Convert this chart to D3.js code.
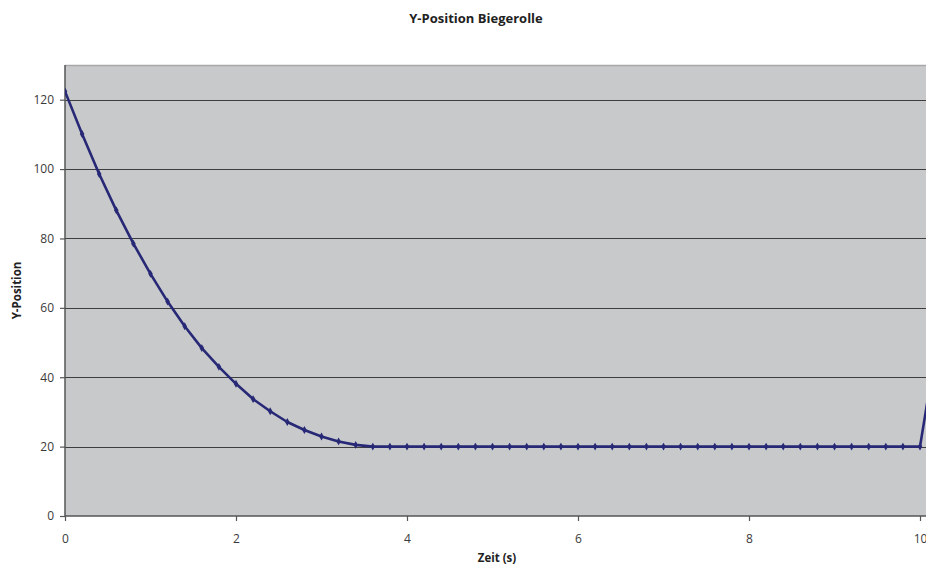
<!DOCTYPE html>
<html>
<head>
<meta charset="utf-8">
<script src="https://cdn.jsdelivr.net/npm/d3@7"></script>
<style>
  html, body { margin: 0; padding: 0; background: #fff; }
  svg { display: block; font-family: "Open Sans", "DejaVu Sans", sans-serif; }
</style>
</head>
<body>
<svg id="chart" width="926" height="570"></svg>
<script>
// Sample times (s) and measured Y position of the bending roller
const times = [0, 0.2, 0.4, 0.6, 0.8, 1.0, 1.2, 1.4, 1.6, 1.8, 2.0, 2.2, 2.4, 2.6, 2.8, 3.0,
  3.2, 3.4, 3.6, 3.8, 4.0, 4.2, 4.4, 4.6, 4.8, 5.0, 5.2, 5.4, 5.6, 5.8, 6.0, 6.2, 6.4, 6.6,
  6.8, 7.0, 7.2, 7.4, 7.6, 7.8, 8.0, 8.2, 8.4, 8.6, 8.8, 9.0, 9.2, 9.4, 9.6, 9.8, 10.0, 10.2];
const yPosition = [122.4, 110.1, 98.6, 88.1, 78.5, 69.8, 61.8, 54.7, 48.4, 43.0, 38.1, 33.7,
  30.2, 27.1, 24.8, 22.9, 21.5, 20.5, 20, 20, 20, 20, 20, 20, 20, 20, 20, 20, 20, 20, 20, 20,
  20, 20, 20, 20, 20, 20, 20, 20, 20, 20, 20, 20, 20, 20, 20, 20, 20, 20, 20, 50];
const xTicks = [0, 2, 4, 6, 8, 10];
const yTicks = [0, 20, 40, 60, 80, 100, 120];

const svg = d3.select("#chart");
const plotLeft = 65, plotTop = 65, plotBottom = 516;
const pxPerSec = 85.5;
const xMax = 12;

const x = d3.scaleLinear().domain([0, xMax]).range([plotLeft, plotLeft + xMax * pxPerSec]);
const y = d3.scaleLinear().domain([0, 130]).range([plotBottom, plotTop]);
const plotRight = x(xMax);

svg.append("defs").append("clipPath").attr("id", "plotClip")
  .append("rect").attr("x", plotLeft).attr("y", plotTop)
  .attr("width", plotRight - plotLeft).attr("height", plotBottom - plotTop);

// Plot background
svg.append("rect")
  .attr("x", plotLeft).attr("y", plotTop)
  .attr("width", plotRight - plotLeft).attr("height", plotBottom - plotTop)
  .attr("fill", "#c8c9cb");

// Top border of the plot area
svg.append("line")
  .attr("x1", plotLeft).attr("x2", plotRight).attr("y1", plotTop + 0.5).attr("y2", plotTop + 0.5)
  .attr("stroke", "#a8a8a8").attr("stroke-width", 1.5);

// Horizontal gridlines
svg.append("g").selectAll("line").data(yTicks.filter(d => d > 0)).join("line")
  .attr("x1", plotLeft).attr("x2", plotRight)
  .attr("y1", d => Math.round(y(d)) + 0.5).attr("y2", d => Math.round(y(d)) + 0.5)
  .attr("stroke", "#3e3e3e").attr("stroke-width", 1);

// Y axis
const yAxis = svg.append("g").attr("transform", `translate(${plotLeft},0)`)
  .call(d3.axisLeft(y).tickValues(yTicks).tickSize(5).tickPadding(6));
yAxis.select(".domain").attr("d", `M0,${plotTop}V${plotBottom}`).attr("stroke", "#555").attr("stroke-width", 1.5);
yAxis.selectAll(".tick line").attr("stroke", "#555").attr("stroke-width", 1.2);
yAxis.selectAll(".tick text").attr("font-size", 12).attr("fill", "#3a3a3a")
  .attr("font-family", "'Open Sans', sans-serif");

// X axis
const xAxis = svg.append("g").attr("transform", `translate(0,${plotBottom})`)
  .call(d3.axisBottom(x).tickValues(xTicks).tickSize(5).tickPadding(13).tickFormat(d3.format("d")));
xAxis.select(".domain").attr("d", `M${plotLeft},0H${plotRight}`).attr("stroke", "#555").attr("stroke-width", 1.5);
xAxis.selectAll(".tick line").attr("stroke", "#555").attr("stroke-width", 1.2);
xAxis.selectAll(".tick text").attr("font-size", 12).attr("fill", "#3a3a3a")
  .attr("font-family", "'Open Sans', sans-serif");

// Data line and markers
const pts = times.map((t, i) => [t, yPosition[i]]);
const plot = svg.append("g").attr("clip-path", "url(#plotClip)");
plot.append("path")
  .datum(pts)
  .attr("fill", "none")
  .attr("stroke", "#272876")
  .attr("stroke-width", 2.6)
  .attr("stroke-linejoin", "round")
  .attr("d", d3.line().x(d => x(d[0])).y(d => y(d[1])));
plot.append("g").selectAll("path").data(pts).join("path")
  .attr("transform", d => `translate(${x(d[0])},${y(d[1])})`)
  .attr("d", d3.symbol(d3.symbolDiamond, 18)())
  .attr("fill", "#272876");

// Titles
svg.append("text")
  .attr("x", 476).attr("y", 23).attr("text-anchor", "middle")
  .attr("font-size", 13).attr("font-weight", "bold").attr("fill", "#222")
  .text("Y-Position Biegerolle");
svg.append("text")
  .attr("x", 497).attr("y", 562).attr("text-anchor", "middle")
  .attr("font-size", 11.5).attr("font-weight", "bold").attr("fill", "#222")
  .text("Zeit (s)");
svg.append("text")
  .attr("transform", `translate(21,${(plotTop + plotBottom) / 2}) rotate(-90)`)
  .attr("text-anchor", "middle")
  .attr("font-size", 11.5).attr("font-weight", "bold").attr("fill", "#222")
  .text("Y-Position");
</script>
</body>
</html>
